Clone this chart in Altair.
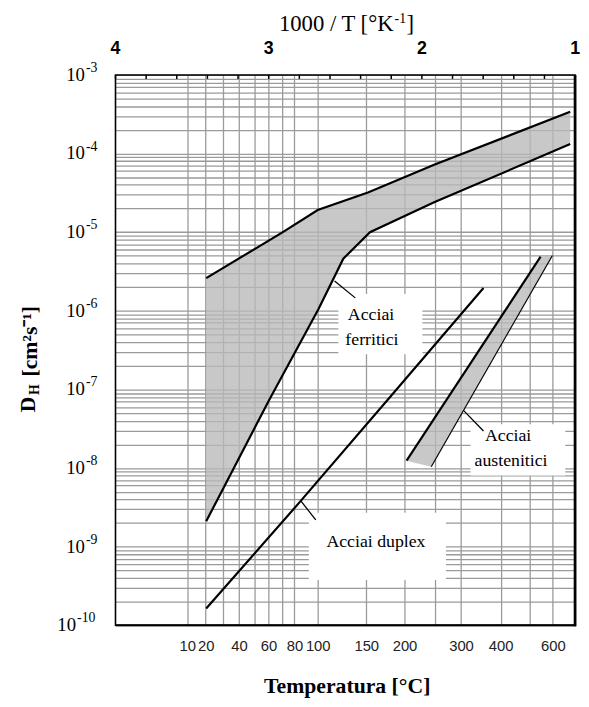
import altair as alt
import numpy as np
import pandas as pd

# ---------------- data ----------------
# x = 1000/T [K^-1], D = hydrogen diffusivity D_H [cm^2 s^-1]
ferr_upper_x = [3.408, 2.905, 2.680, 2.352, 1.920, 1.032]
ferr_upper_D = [2.6e-6, 1.01e-5, 1.91e-5, 3.2e-5, 7.2e-5, 3.4e-4]
ferr_lower_x = [3.408, 2.996, 2.674, 2.513, 2.339, 1.920, 1.032]
ferr_lower_D = [2.1e-9, 7.4e-8, 1.06e-6, 4.6e-6, 1.0e-5, 2.4e-5, 1.32e-4]
duplex_x = [3.408, 2.802, 2.223, 1.598]
duplex_D = [1.63e-10, 3.6e-9, 7.4e-8, 1.95e-6]
aust_left_x = [2.100, 1.225]
aust_left_D = [1.24e-8, 4.9e-6]
aust_right_x = [1.939, 1.148]
aust_right_D = [1.04e-8, 5.06e-6]

grid_temps_C = [10, 20, 30, 40, 50, 60, 70, 80, 100, 150, 200, 250, 300, 400, 500, 600]
label_temps_C = [10, 20, 40, 60, 80, 100, 150, 200, 300, 400, 600]
top_tick_x = [4.0, 3.8, 3.6, 3.4, 3.2, 3.0, 2.8, 2.6, 2.4, 2.2, 2.0, 1.8, 1.6, 1.4, 1.2, 1.0]
top_label_x = [4, 3, 2, 1]
decade_exps = [-10, -9, -8, -7, -6, -5, -4, -3]

note_text = ["Acciai", "ferritici", "Acciai duplex", "Acciai", "austenitici"]
note_x = [2.332, 2.326, 2.30, 1.437, 1.418]
note_D = [8.9e-7, 4.2e-7, 1.13e-9, 2.56e-8, 1.24e-8]

box_x1 = [2.545, 2.738, 1.682]
box_x2 = [1.997, 1.843, 1.064]
box_D1 = [1.64e-6, 2.69e-9, 3.61e-8]
box_D2 = [2.81e-7, 3.77e-10, 8.05e-9]

lead_x1 = [2.435, 2.693, 1.598]
lead_D1 = [1.46e-6, 2.19e-9, 2.96e-8]
lead_x2 = [2.57, 2.789, 1.727]
lead_D2 = [2.4e-6, 3.8e-9, 5.37e-8]

# ---------------- helpers ----------------
W, H = 466, 558
SERIF = "Liberation Serif, Times New Roman"


def band(up_x, up_D, lo_x, lo_D):
    xs = sorted(set(up_x) | set(lo_x))
    ux, uy = np.array(up_x)[::-1], np.log10(up_D)[::-1]
    lx, ly = np.array(lo_x)[::-1], np.log10(lo_D)[::-1]
    hi = 10 ** np.interp(xs, ux, uy)
    lo = 10 ** np.interp(xs, lx, ly)
    return pd.DataFrame({"x": xs, "y": hi, "y2": lo})


ferr_band = band(ferr_upper_x, ferr_upper_D, ferr_lower_x, ferr_lower_D)
aust_band = band(aust_left_x + [aust_right_x[-1]], aust_left_D + [aust_right_D[-1]],
                 [aust_left_x[0]] + aust_right_x, [aust_left_D[0]] + aust_right_D)
bands = pd.concat([ferr_band.assign(g="f"), aust_band.assign(g="a")])

lines = pd.concat([
    pd.DataFrame({"x": ferr_upper_x, "y": ferr_upper_D, "s": "fu"}),
    pd.DataFrame({"x": ferr_lower_x, "y": ferr_lower_D, "s": "fl"}),
    pd.DataFrame({"x": duplex_x, "y": duplex_D, "s": "du"}),
    pd.DataFrame({"x": aust_left_x, "y": aust_left_D, "s": "al"}),
])
thin = pd.DataFrame({"x": aust_right_x, "y": aust_right_D, "s": "ar"})

grid_x = [1000.0 / (t + 273.15) for t in grid_temps_C]
grid_y = [m * 10.0 ** e for e in decade_exps[:-1] for m in range(1, 10)] + [1e-3]

decades = pd.DataFrame({
    "y": [10.0 ** e for e in decade_exps],
    "e": decade_exps,
    "base": ["10"] * len(decade_exps),
    "sup": [str(e) for e in decade_exps],
})

x_label_expr = (
    f"indexof({label_temps_C}, round(1000/datum.value - 273.15)) >= 0 ? "
    f"'' + round(1000/datum.value - 273.15) : ''"
)

xscale = alt.Scale(domain=[1, 4], reverse=True, nice=False, zero=False)
yscale = alt.Scale(type="log", domain=[1e-10, 1e-3], nice=False)
xaxis = alt.Axis(values=grid_x, labelExpr=x_label_expr, title=None, grid=True,
                 gridColor="#9a9a9a", gridWidth=1.3, ticks=False, tickSize=0, domain=False,
                 labelFont="Liberation Sans Narrow, Liberation Sans, Arial", labelFontSize=15,
                 labelColor="#222", labelPadding=14, labelFlush=False, labelOverlap=False)
yaxis = alt.Axis(values=grid_y, labels=False, title=None, grid=True,
                 gridColor="#9a9a9a", gridWidth=1.3, ticks=False, tickSize=0, domain=False)

X = alt.X("x:Q", scale=xscale, axis=xaxis)
Y = alt.Y("y:Q", scale=yscale, axis=yaxis)

fill = alt.Chart(bands).mark_area(color="#b8b8b8", opacity=0.78).encode(
    x=X, y=Y, y2="y2:Q", detail="g:N")

boxes = alt.Chart(pd.DataFrame({"x": box_x1, "x2": box_x2, "y": box_D1, "y2": box_D2})).mark_rect(
    color="white").encode(x=X, x2="x2:Q", y=Y, y2="y2:Q")

main_lines = alt.Chart(lines).mark_line(color="black", strokeWidth=2.2).encode(
    x=X, y=Y, detail="s:N", order="x:Q")
thin_line = alt.Chart(thin).mark_line(color="black", strokeWidth=1.2).encode(x=X, y=Y)

leaders = alt.Chart(pd.DataFrame({"x": lead_x1, "x2": lead_x2, "y": lead_D1, "y2": lead_D2})).mark_rule(
    color="black", strokeWidth=1.3).encode(x=X, x2="x2:Q", y=Y, y2="y2:Q")

notes = alt.Chart(pd.DataFrame({"x": note_x, "y": note_D, "t": note_text})).mark_text(
    font=SERIF, fontSize=18, color="black", align="center", baseline="middle").encode(
    x=X, y=Y, text="t:N")

# left decade labels: "10" with raised exponent
dec = alt.Chart(decades)
ten_a = dec.transform_filter("datum.e > -10").mark_text(
    font=SERIF, fontSize=19, color="black", align="right", baseline="middle").encode(
    x=alt.value(-31), y=Y, text="base:N")
ten_b = dec.transform_filter("datum.e <= -10").mark_text(
    font=SERIF, fontSize=19, color="black", align="right", baseline="middle").encode(
    x=alt.value(-40), y=Y, text="base:N")
sup_a = dec.transform_filter("datum.e > -10").mark_text(
    font=SERIF, fontSize=14, color="black", align="left", baseline="middle", dy=-7).encode(
    x=alt.value(-30), y=Y, text="sup:N")
sup_b = dec.transform_filter("datum.e <= -10").mark_text(
    font=SERIF, fontSize=14, color="black", align="left", baseline="middle", dy=-7).encode(
    x=alt.value(-39), y=Y, text="sup:N")

top_ticks = alt.Chart(pd.DataFrame({"x": top_tick_x})).mark_rule(color="black", strokeWidth=1.5).encode(
    x=X, y=alt.value(0), y2=alt.value(4))
top_labels = alt.Chart(pd.DataFrame({"x": top_label_x})).mark_text(
    font="Liberation Sans", fontSize=18, fontWeight="bold", color="black", baseline="middle").encode(
    x=X, y=alt.value(-26), text=alt.Text("x:Q", format="d"))

frame = alt.Chart(pd.DataFrame({"a": [0]})).mark_rect(
    filled=False, stroke="black", strokeWidth=1.6).encode(
    x=alt.value(0), x2=alt.value(W), y=alt.value(0), y2=alt.value(H))
frame_r = alt.Chart(pd.DataFrame({"a": [0]})).mark_rule(color="black", strokeWidth=2.8).encode(
    x=alt.value(W), y=alt.value(0), y2=alt.value(H + 1))
frame_b = alt.Chart(pd.DataFrame({"a": [0]})).mark_rule(color="black", strokeWidth=2.2).encode(
    x=alt.value(0), x2=alt.value(W + 1), y=alt.value(H))

top_title = alt.Chart(pd.DataFrame({"t": ["1000 / T [°K"]})).mark_text(
    font=SERIF, fontSize=23, color="black", align="right", baseline="middle").encode(
    x=alt.value(282), y=alt.value(-52), text="t:N")
top_title_sup = alt.Chart(pd.DataFrame({"t": ["-1"]})).mark_text(
    font=SERIF, fontSize=14, color="black", align="left", baseline="middle").encode(
    x=alt.value(283), y=alt.value(-57), text="t:N")
top_title_end = alt.Chart(pd.DataFrame({"t": ["]"]})).mark_text(
    font=SERIF, fontSize=23, color="black", align="left", baseline="middle").encode(
    x=alt.value(295), y=alt.value(-52), text="t:N")
bottom_title = alt.Chart(pd.DataFrame({"t": ["Temperatura [°C]"]})).mark_text(
    font=SERIF, fontSize=22, fontWeight="bold", color="black", align="center",
    baseline="middle").encode(x=alt.value(235), y=alt.value(620), text="t:N")
yt_D = alt.Chart(pd.DataFrame({"t": ["D"]})).mark_text(
    font=SERIF, fontSize=22, fontWeight="bold", color="black", angle=270, align="center",
    baseline="middle").encode(x=alt.value(-89), y=alt.value(334), text="t:N")
yt_H = alt.Chart(pd.DataFrame({"t": ["H"]})).mark_text(
    font=SERIF, fontSize=14, fontWeight="bold", color="black", angle=270, align="center",
    baseline="middle").encode(x=alt.value(-82), y=alt.value(319), text="t:N")
yt_rest = alt.Chart(pd.DataFrame({"t": ["[cm²s⁻¹]"]})).mark_text(
    font=SERIF, fontSize=22, fontWeight="bold", color="black", angle=270, align="center",
    baseline="middle").encode(x=alt.value(-87), y=alt.value(270), text="t:N")

chart = alt.layer(
    fill, boxes, main_lines, thin_line, leaders, notes, ten_a, ten_b, sup_a, sup_b,
    top_ticks, top_labels, frame, frame_r, frame_b,
    top_title, top_title_sup, top_title_end, bottom_title, yt_D, yt_H, yt_rest
).properties(
    width=W, height=H,
    autosize=alt.AutoSizeParams(type="none"),
    padding={"left": 109, "top": 63, "right": 6, "bottom": 78},
    background="white",
).configure_view(stroke=None)

chart.save("out.html", embed_options={"renderer": "svg", "actions": False})
